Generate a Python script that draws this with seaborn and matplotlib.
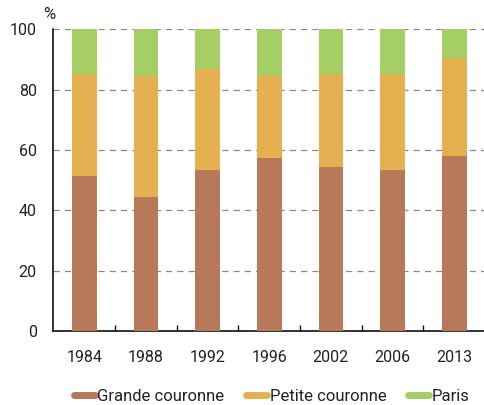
import matplotlib
matplotlib.use("Agg")
import matplotlib.pyplot as plt
from matplotlib.lines import Line2D
import seaborn as sns
import pandas as pd
import numpy as np

years = ["1984", "1988", "1992", "1996", "2002", "2006", "2013"]
grande = [51.3, 44.5, 53.4, 57.4, 54.3, 53.4, 58.0]
petite = [34.0, 40.0, 33.4, 27.1, 31.0, 31.9, 32.6]
paris = [14.7, 15.5, 13.2, 15.5, 14.7, 14.7, 9.4]
series_names = ["Grande couronne", "Petite couronne", "Paris"]
colors = ["#B8785A", "#E5B04F", "#A5CF64"]

sns.set_theme(style="white")
plt.rcParams["font.family"] = ["Roboto", "DejaVu Sans"]

df = pd.DataFrame({"year": years, "grande": grande, "petite": petite, "paris": paris})
df["top1"] = df["grande"]
df["top2"] = df["grande"] + df["petite"]
df["top3"] = df["top2"] + df["paris"]

fig = plt.figure(figsize=(4.85, 4.05), dpi=100)
ax = fig.add_axes([0.11, 0.183, 0.89, 0.745])

for col, c in zip(["top3", "top2", "top1"], [colors[2], colors[1], colors[0]]):
    sns.barplot(data=df, x="year", y=col, color=c, width=0.4, ax=ax,
                saturation=1, edgecolor="none", linewidth=0, zorder=3)

ax.set_ylim(0, 100)
ax.set_xlim(-0.5, 6.5)
ax.set_yticks([0, 20, 40, 60, 80, 100])
ax.yaxis.grid(True, linestyle=(0, (5, 4)), color="#8a8a8a", linewidth=0.9, zorder=0)
ax.xaxis.grid(False)
ax.set_axisbelow(True)
ax.set_xlabel("")
ax.set_ylabel("")

for s in ["top", "right"]:
    ax.spines[s].set_visible(False)
for s in ["left", "bottom"]:
    ax.spines[s].set_visible(True)
    ax.spines[s].set_color("#111111")
    ax.spines[s].set_linewidth(1.2)

ax.set_xticks(np.arange(0.5, 6.5, 1.0), minor=True)
ax.tick_params(axis="x", which="minor", direction="in", length=4, width=1, color="#111111", bottom=True)
ax.tick_params(axis="x", which="major", length=0, pad=14, labelsize=11.5, labelcolor="#222222")
ax.tick_params(axis="y", which="major", length=0, pad=12, labelsize=11.5, labelcolor="#222222")

fig.text(0.088, 0.945, "%", fontsize=12, color="#222222", ha="left", va="bottom")

handles = [Line2D([0], [0], color=c, linewidth=5, solid_capstyle="round") for c in colors]
fig.legend(handles, series_names, loc="lower center", bbox_to_anchor=(0.56, -0.035), ncol=3,
           frameon=False, fontsize=12, handlelength=1.25, handletextpad=0.15, columnspacing=1.3,
           labelcolor="#222222")

fig.savefig("out.png", dpi=100)
